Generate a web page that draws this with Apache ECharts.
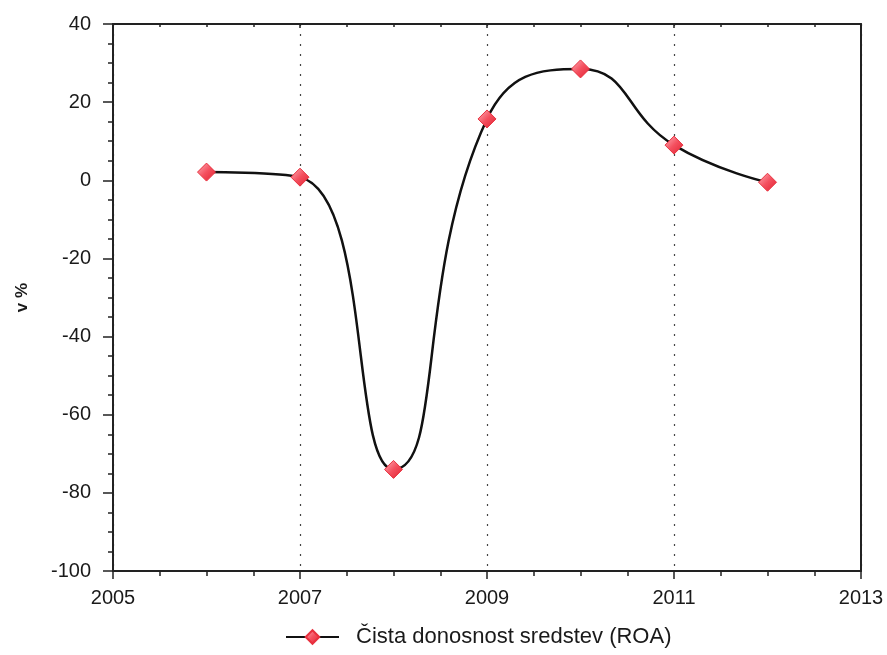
<!DOCTYPE html>
<html>
<head>
<meta charset="utf-8">
<script src="https://cdn.jsdelivr.net/npm/echarts@6/dist/echarts.min.js"></script>
<style>
  html, body { margin: 0; padding: 0; background: #fff; }
  #chart { width: 887px; height: 655px; }
</style>
</head>
<body>
<div id="chart"></div>
<script>
// podatki
const years = [2006, 2007, 2008, 2009, 2010, 2011, 2012];
const roa = [2.1, 0.8, -74.0, 15.7, 28.5, 9.0, -0.5];
const seriesName = 'Čista donosnost sredstev (ROA)';
const yTitle = 'v %';

const font = 'Liberation Sans, Arial, sans-serif';
const textColor = '#1a1a1a';

const chart = echarts.init(document.getElementById('chart'));

const option = {
  animation: false,
  grid: { left: 113, right: 26, top: 24, bottom: 84 },
  legend: {
    bottom: 2,
    left: 280,
    itemWidth: 53,
    itemHeight: 17,
    textStyle: { fontFamily: font, fontSize: 22, color: textColor, padding: [0, 0, 0, 12] },
    data: [seriesName]
  },
  xAxis: [{
    type: 'value',
    min: 2005,
    max: 2013,
    interval: 2,
    axisLine: { onZero: false, lineStyle: { color: '#222', width: 2 } },
    axisTick: { show: true, length: 8, lineStyle: { color: '#222', width: 1.5 } },
    minorTick: { show: true, splitNumber: 4, length: 5, lineStyle: { color: '#222', width: 1.5 } },
    axisLabel: {
      fontFamily: font, fontSize: 20, color: textColor, margin: 17,
      formatter: v => String(v)
    },
    splitLine: { show: true, lineStyle: { color: '#444', type: [2, 8], width: 1.2 } }
  }, {
    type: 'value',
    position: 'top',
    min: 2005,
    max: 2013,
    interval: 2,
    axisLine: { onZero: false, lineStyle: { color: '#222', width: 2 } },
    axisTick: { show: true, inside: true, length: 4, lineStyle: { color: '#222', width: 1.5 } },
    minorTick: { show: true, splitNumber: 4, length: 3, lineStyle: { color: '#222', width: 1.5 } },
    axisLabel: { show: false },
    splitLine: { show: false }
  }],
  yAxis: [{
    type: 'value',
    min: -100,
    max: 40,
    interval: 20,
    name: yTitle,
    nameLocation: 'middle',
    nameGap: 82,
    nameRotate: 90,
    nameTextStyle: { fontFamily: font, fontSize: 17, fontWeight: 'bold', color: textColor },
    axisLine: { onZero: false, lineStyle: { color: '#222', width: 2 } },
    axisTick: { show: true, length: 10, lineStyle: { color: '#222', width: 1.5 } },
    minorTick: { show: true, splitNumber: 4, length: 5, lineStyle: { color: '#222', width: 1.5 } },
    axisLabel: { fontFamily: font, fontSize: 20, color: textColor, margin: 22 },
    splitLine: { show: false }
  }, {
    type: 'value',
    position: 'right',
    min: -100,
    max: 40,
    interval: 20,
    axisLine: { onZero: false, lineStyle: { color: '#222', width: 2 } },
    axisTick: { show: false },
    axisLabel: { show: false },
    splitLine: { show: false }
  }],
  series: [{
    name: seriesName,
    type: 'line',
    data: years.map((y, i) => [y, roa[i]]),
    smooth: 0.5,
    symbol: 'diamond',
    symbolSize: 18,
    lineStyle: { color: '#111', width: 2.5 },
    itemStyle: {
      color: new echarts.graphic.LinearGradient(0, 0, 1, 1, [
        { offset: 0, color: '#ffb3bb' },
        { offset: 0.5, color: '#f4505f' },
        { offset: 1, color: '#e0202f' }
      ]),
      borderColor: '#e8303e',
      borderWidth: 1
    },
    z: 3
  }]
};

chart.setOption(option);
</script>
</body>
</html>
